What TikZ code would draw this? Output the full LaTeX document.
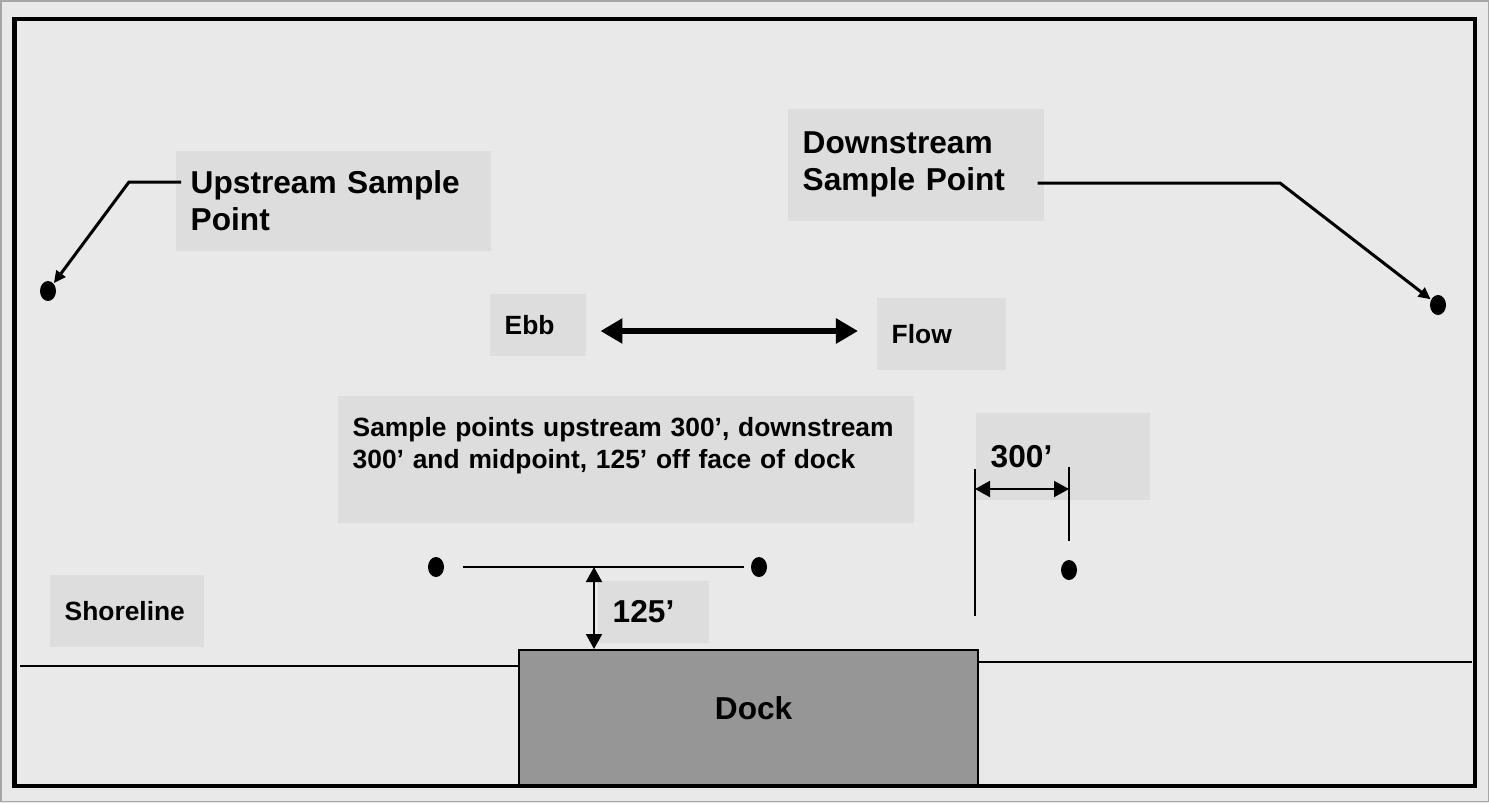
\documentclass[tikz,border=0pt]{standalone}
\usepackage{fontspec}
\setmainfont{Liberation Sans}
\usepackage{tikz}
\usetikzlibrary{arrows.meta}
\usetikzlibrary{shapes.geometric}

\definecolor{sheet}{HTML}{E8E9E8}
\definecolor{tag}{HTML}{DDDDDD}
\definecolor{deck}{HTML}{969696}

\tikzset{
  tagbox/.style={rectangle, fill=tag, anchor=north west, inner xsep=0.15cm, inner ysep=0pt, align=left},
  bigtext/.style={font=\fontsize{9}{10.6}\selectfont\bfseries},
  smalltext/.style={font=\fontsize{7.5}{9.3}\selectfont\bfseries},
  spot/.style={ellipse, fill=black, minimum width=0.16cm, minimum height=0.2cm, inner sep=0pt},
  leader/.style={line width=0.03cm, -{Triangle[length=0.12cm, width=0.11cm]}},
  hair/.style={line width=0.02cm},
  dimline/.style={line width=0.02cm, {Triangle[length=0.15cm, width=0.16cm]}-{Triangle[length=0.15cm, width=0.16cm]}},
  tide/.style={line width=0.06cm, {Triangle[length=0.22cm, width=0.24cm]}-{Triangle[length=0.22cm, width=0.24cm]}}
}

\begin{document}
\begin{tikzpicture}[x=0.01cm, y=-0.01cm]
    \useasboundingbox (0,0) rectangle (1489,803);
    \fill[sheet] (0,0) rectangle (1489,803);
    \draw[gray!70, line width=0.015cm] (0.75,0.75) rectangle (1488.25,801.5);

    \node[tagbox, bigtext, text width=2.85cm, minimum height=1cm] (upbox) at (175,150) {Upstream Sample\\Point};
    \node[tagbox, bigtext, text width=2.26cm, minimum height=1.12cm] (dnbox) at (787,108) {Downstream\\Sample Point};
    \node[tagbox, smalltext, text width=0.66cm, minimum height=0.62cm] (ebb) at (489,293) {Ebb};
    \node[tagbox, smalltext, text width=0.99cm, minimum height=0.72cm] (flow) at (876,297) {Flow};
    \node[tagbox, smalltext, text width=5.46cm, minimum height=1.27cm] (note) at (337,395) {Sample points upstream 300’, downstream\\300’ and midpoint, 125’ off face of dock\\\mbox{}};
    \node[tagbox, bigtext, text width=1.44cm, minimum height=0.87cm] (ft300) at (975,412) {300’};
    \node[tagbox, bigtext, text width=0.81cm, minimum height=0.62cm] (ft125) at (597,580) {125’};
    \node[tagbox, smalltext, text width=1.24cm, minimum height=0.72cm] (shore) at (49,574) {Shoreline};

    \node[draw, fill=deck, line width=0.02cm, anchor=north west, minimum width=4.59cm, minimum height=1.35cm] (dock) at (518,649) {};
    \node[bigtext] (docktxt) at ([xshift=0.05cm, yshift=0.09cm]dock.center) {Dock};

    \node[spot] (updot) at (48,291) {};
    \node[spot] (dndot) at (1438,305) {};
    \node[spot] (midl) at (436,567) {};
    \node[spot] (midr) at (759,567) {};
    \node[spot] (dnpt) at (1069,570) {};

    \coordinate (upbend) at (129,182);
    \coordinate (dnbend) at (1280,183);
    \coordinate (tideline) at (0,331);
    \coordinate (gap) at (594,567);
    \coordinate (extltop) at (975,469);
    \coordinate (extlbot) at (975,616);
    \coordinate (extrtop) at (1069,467);
    \coordinate (spanl) at (975,489);
    \coordinate (shorel) at (20,666);
    \coordinate (shorer) at (1472,662);

    \draw[leader, shorten <=-0.06cm] (upbox.west |- upbend) -- (upbend) -- (updot);
    \draw[leader, shorten <=-0.07cm] (dnbox.east |- dnbend) -- (dnbend) -- (dndot);
    \draw[tide, shorten <=0.14cm, shorten >=0.18cm] (ebb.east |- tideline) -- (flow.west |- tideline);
    \draw[hair, shorten <=0.18cm, shorten >=0.06cm] (midl) -- (midr);
    \draw[dimline] (gap) -- (gap |- dock.north);
    \draw[hair] (extltop) -- (extlbot);
    \draw[hair, shorten >=0.18cm] (extrtop) -- (dnpt);
    \draw[dimline] (spanl) -- (spanl -| dnpt);
    \draw[hair] (shorel) -- (shorel -| dock.west);
    \draw[hair] (dock.east |- shorer) -- (shorer);

    \draw[line width=0.04cm] (14.5,19) rectangle (1474.5,786);
\end{tikzpicture}
\end{document}
